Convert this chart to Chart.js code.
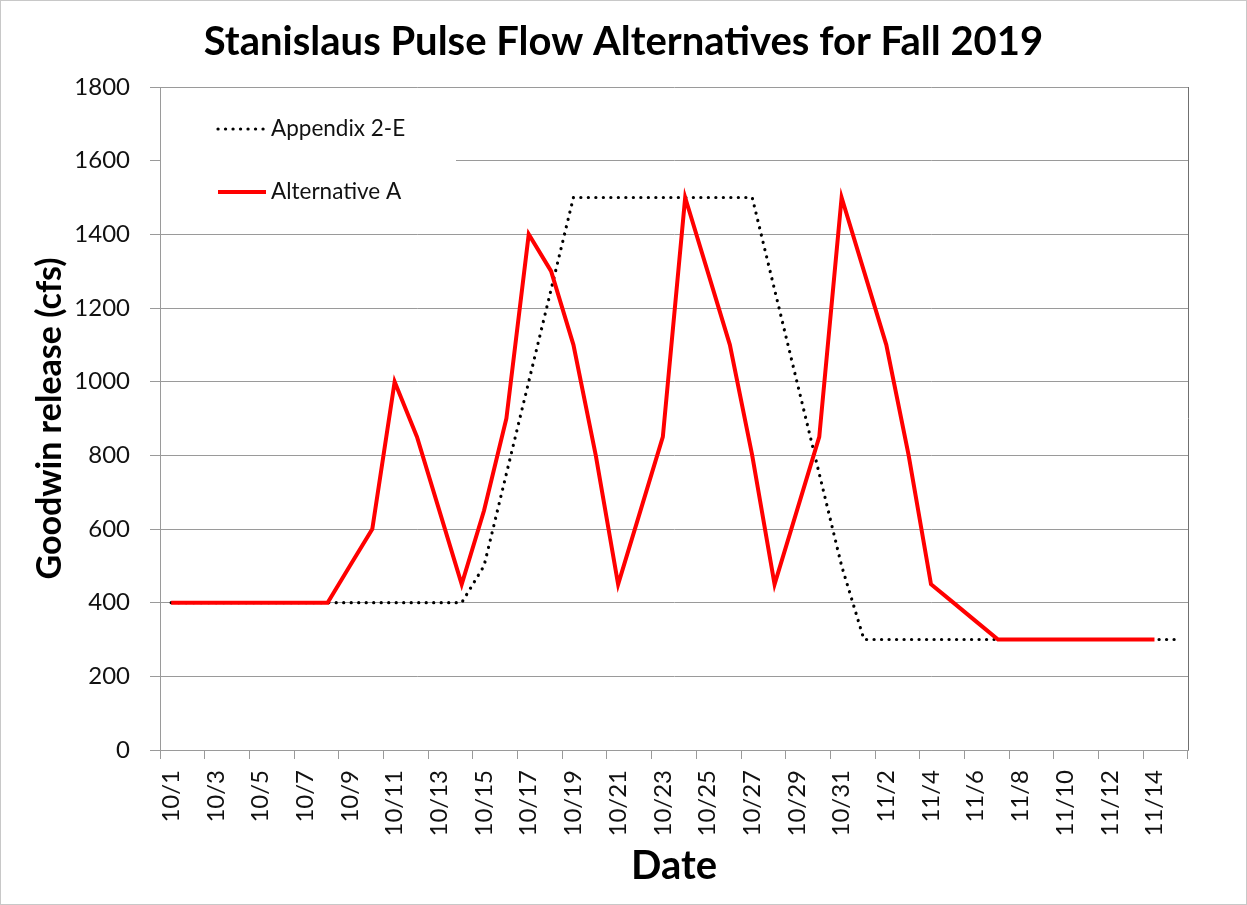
<!DOCTYPE html>
<html>
<head>
<meta charset="utf-8">
<script src="https://cdn.jsdelivr.net/npm/chart.js@4/dist/chart.umd.min.js"></script>
<style>
  html, body { margin: 0; padding: 0; background: #fff; }
  #wrap { width: 1247px; height: 905px; }
</style>
</head>
<body>
<div id="wrap"><canvas id="chart" width="1247" height="905"></canvas></div>
<script>
// one category per day, 10/1 through 11/15
const dates = [
  '10/1', '10/2', '10/3', '10/4', '10/5', '10/6', '10/7', '10/8', '10/9', '10/10',
  '10/11', '10/12', '10/13', '10/14', '10/15', '10/16', '10/17', '10/18', '10/19', '10/20',
  '10/21', '10/22', '10/23', '10/24', '10/25', '10/26', '10/27', '10/28', '10/29', '10/30',
  '10/31', '11/1', '11/2', '11/3', '11/4', '11/5', '11/6', '11/7', '11/8', '11/9',
  '11/10', '11/11', '11/12', '11/13', '11/14', '11/15'
];

const appendix2E = [
  400, 400, 400, 400, 400, 400, 400, 400, 400, 400,
  400, 400, 400, 400, 500, 750, 1000, 1250, 1500, 1500,
  1500, 1500, 1500, 1500, 1500, 1500, 1500, 1250, 1000, 750,
  500, 300, 300, 300, 300, 300, 300, 300, 300, 300,
  300, 300, 300, 300, 300, 300
];

const alternativeA = [
  400, 400, 400, 400, 400, 400, 400, 400, 500, 600,
  1000, 850, 650, 450, 650, 900, 1400, 1300, 1100, 800,
  450, 650, 850, 1500, 1300, 1100, 800, 450, 650, 850,
  1500, 1300, 1100, 800, 450, 400, 350, 300, 300, 300,
  300, 300, 300, 300, 300, null
];

const yTicks = [0, 200, 400, 600, 800, 1000, 1200, 1400, 1600, 1800];

const TITLE = 'Stanislaus Pulse Flow Alternatives for Fall 2019';
const FONT = 'Lato, "Liberation Sans", sans-serif';
const GRID = '#9a9a9a';

// white background, centred title, thin frame round the whole picture
const frame = {
  id: 'frame',
  beforeDraw(chart) {
    const ctx = chart.ctx;
    ctx.save();
    ctx.fillStyle = '#fff';
    ctx.fillRect(0, 0, chart.width, chart.height);
    ctx.fillStyle = '#000';
    ctx.font = 'bold 40px ' + FONT;
    ctx.textAlign = 'center';
    ctx.textBaseline = 'middle';
    ctx.fillText(TITLE, chart.width / 2, 42);
    ctx.restore();
  },
  afterDraw(chart) {
    const ctx = chart.ctx;
    const a = chart.chartArea;
    ctx.save();
    ctx.strokeStyle = '#c8c8c8';
    ctx.lineWidth = 1;
    ctx.strokeRect(0.5, 0.5, chart.width - 1, chart.height - 1);
    ctx.strokeStyle = '#707070';
    ctx.beginPath();
    ctx.moveTo(Math.round(a.right) + 0.5, a.top);
    ctx.lineTo(Math.round(a.right) + 0.5, a.bottom);
    ctx.stroke();
    ctx.restore();
  }
};

// legend sits inside the plot, top left, on a white box
const innerLegend = {
  id: 'innerLegend',
  afterDatasetsDraw(chart) {
    const ctx = chart.ctx;
    const a = chart.chartArea;
    const rows = [
      { ds: chart.data.datasets[1], y: 129 },
      { ds: chart.data.datasets[0], y: 192 }
    ];
    ctx.save();
    ctx.fillStyle = '#fff';
    ctx.fillRect(a.left + 1, 100, 295, 115);
    rows.forEach(r => {
      ctx.beginPath();
      ctx.strokeStyle = r.ds.borderColor;
      ctx.lineWidth = r.ds.borderWidth;
      ctx.lineCap = r.ds.borderCapStyle || 'butt';
      ctx.setLineDash(r.ds.borderDash || []);
      ctx.moveTo(a.left + 58, r.y);
      ctx.lineTo(a.left + 106, r.y);
      ctx.stroke();
      ctx.setLineDash([]);
      ctx.fillStyle = '#111';
      ctx.font = '22.5px ' + FONT;
      ctx.textBaseline = 'middle';
      ctx.fillText(r.ds.label, a.left + 111, r.y);
    });
    ctx.restore();
  }
};

new Chart(document.getElementById('chart'), {
  type: 'line',
  data: {
    labels: dates,
    datasets: [
      {
        label: 'Alternative A',
        data: alternativeA,
        borderColor: '#ff0000',
        borderWidth: 4,
        pointRadius: 0,
        tension: 0,
        order: 0
      },
      {
        label: 'Appendix 2-E',
        data: appendix2E,
        borderColor: '#000',
        borderWidth: 3.2,
        borderDash: [0.1, 7.4],
        borderCapStyle: 'round',
        pointRadius: 0,
        tension: 0,
        order: 1
      }
    ]
  },
  options: {
    responsive: false,
    animation: false,
    layout: { padding: { left: 0, right: 59, top: 87, bottom: 0 } },
    plugins: {
      legend: { display: false },
      tooltip: { enabled: false },
      title: { display: false }
    },
    scales: {
      x: {
        offset: true,
        afterFit: s => { s.height = 155; },
        grid: {
          offset: true,
          drawOnChartArea: false,
          tickLength: 9,
          tickColor: c => (c.index === undefined || c.index % 2 === 0) ? GRID : 'rgba(0,0,0,0)'
        },
        border: { color: GRID },
        ticks: {
          autoSkip: false,
          minRotation: 90,
          maxRotation: 90,
          padding: 11,
          color: '#111',
          font: { family: FONT, size: 24 },
          callback: (v, i) => i % 2 === 0 ? dates[i] : ''
        },
        title: {
          display: true,
          text: 'Date',
          color: '#000',
          font: { family: FONT, size: 40, weight: 'bold', lineHeight: 1.2 },
          padding: { bottom: 15 }
        }
      },
      y: {
        min: 0,
        max: 1800,
        afterFit: s => { s.width = 160; },
        afterBuildTicks: s => { s.ticks = yTicks.map(v => ({ value: v })); },
        grid: { color: GRID, tickLength: 10 },
        border: { color: GRID },
        ticks: {
          padding: 20,
          color: '#111',
          font: { family: FONT, size: 24 },
          callback: v => String(v)
        },
        title: {
          display: true,
          text: 'Goodwin release (cfs)',
          color: '#000',
          font: { family: FONT, size: 34, weight: 'bold', lineHeight: 1.2 },
          padding: { top: 30 }
        }
      }
    }
  },
  plugins: [frame, innerLegend]
});
</script>
</body>
</html>
